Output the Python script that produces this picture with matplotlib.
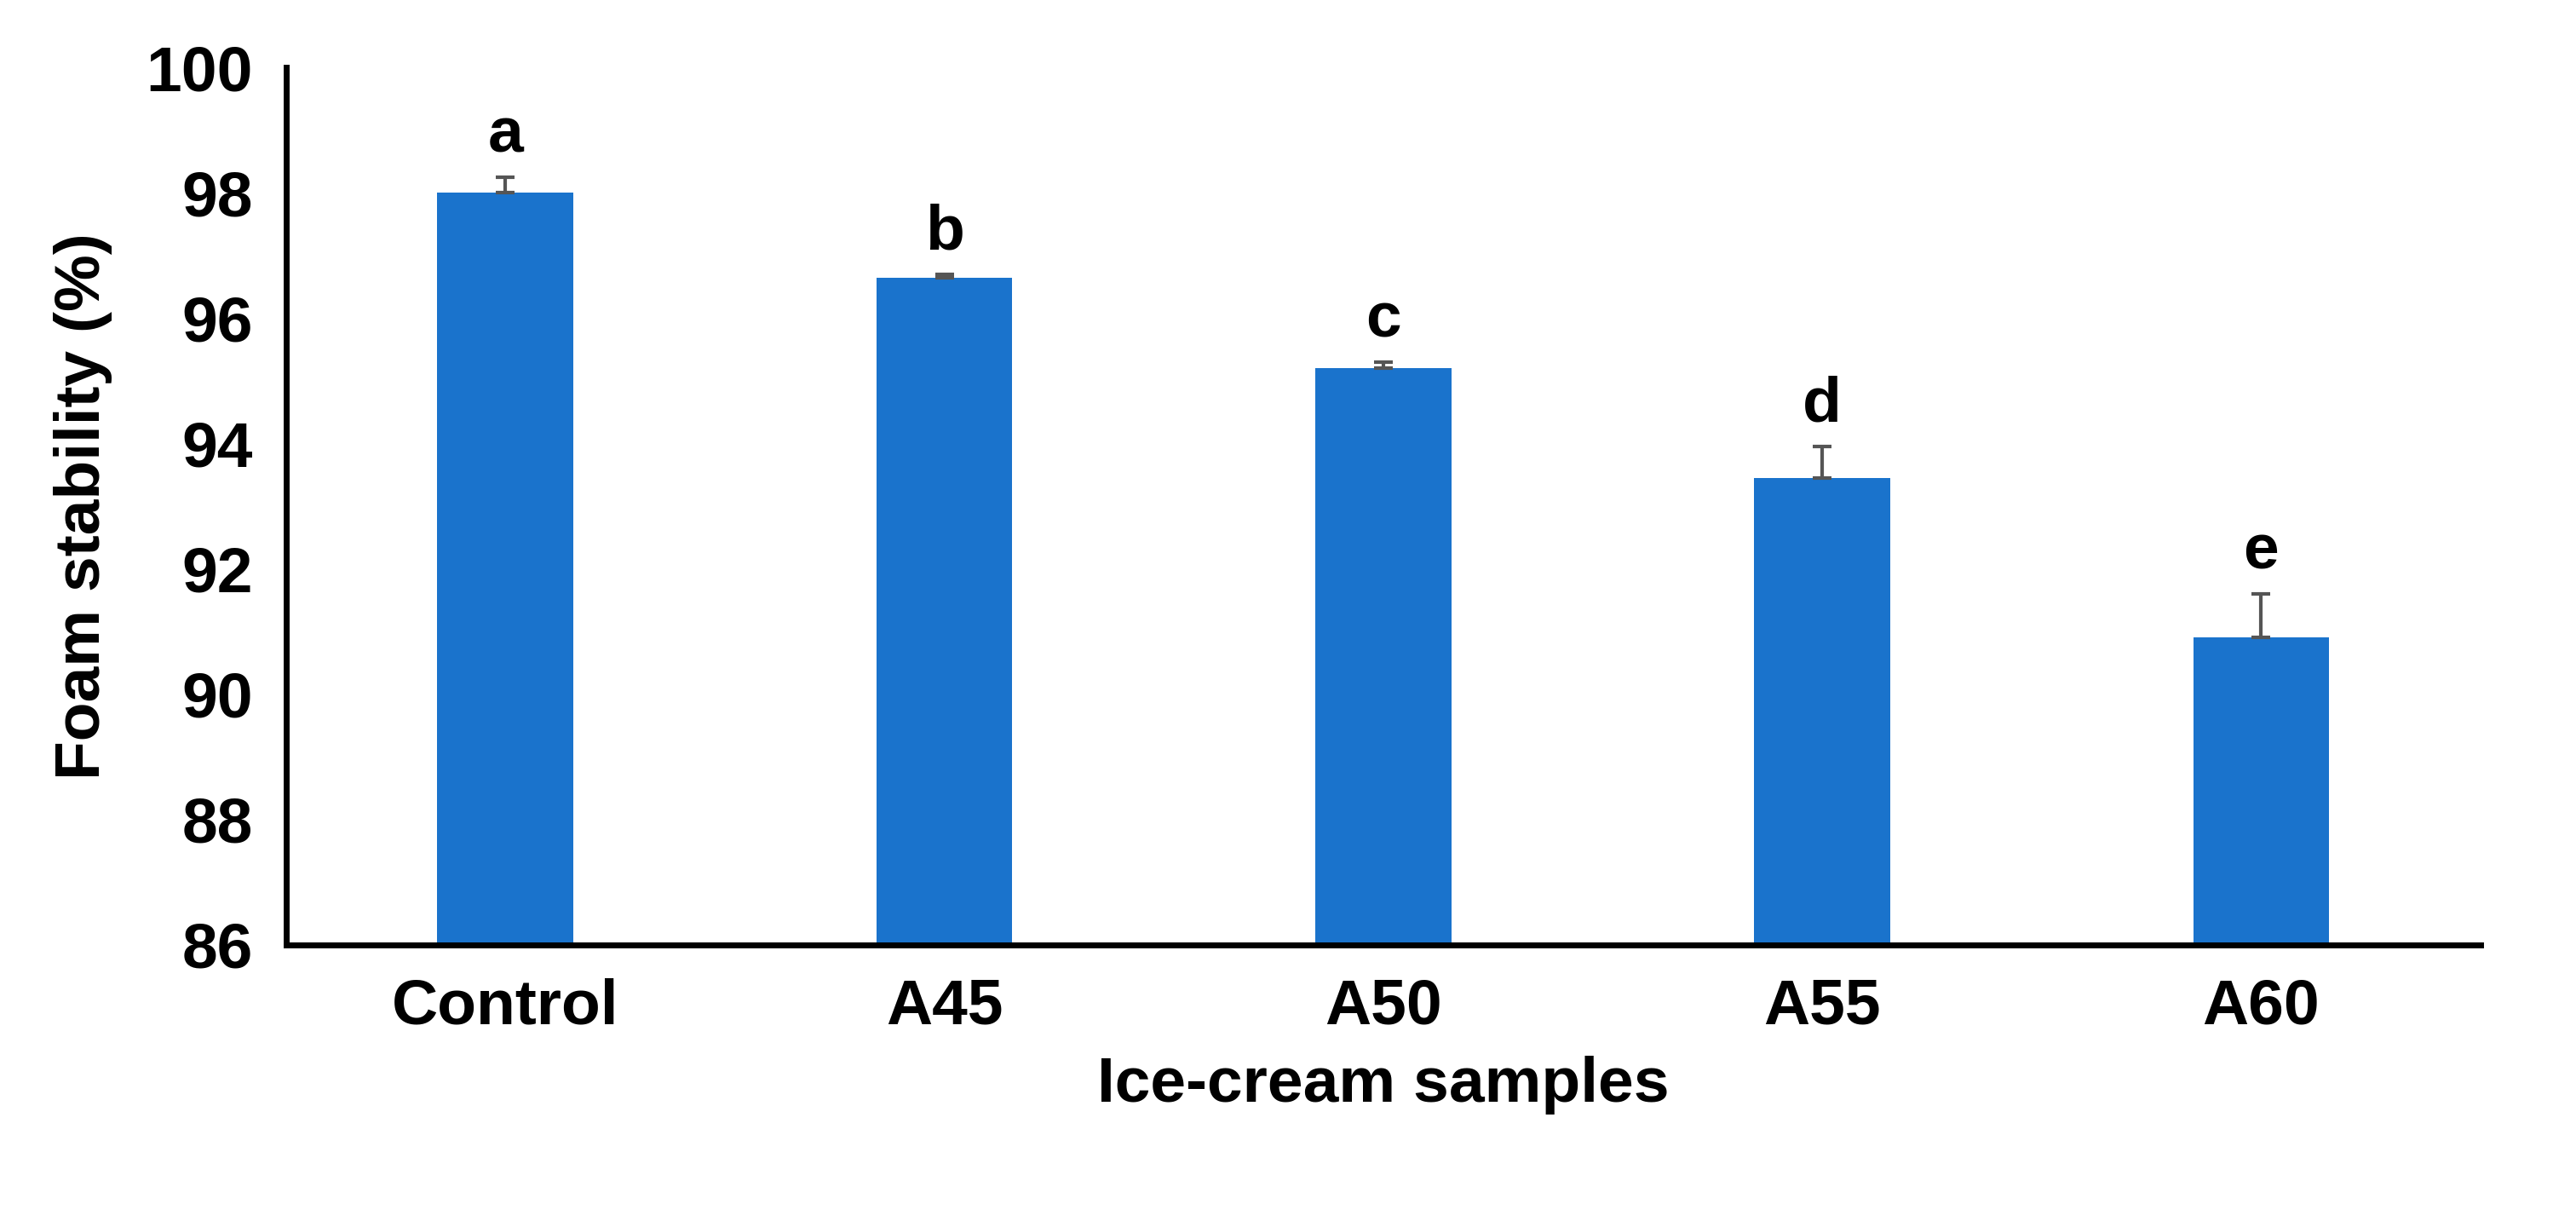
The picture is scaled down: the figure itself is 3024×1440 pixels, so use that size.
import matplotlib.pyplot as plt

samples = ["Control", "A45", "A50", "A55", "A60"]
stability = [98.0, 96.65, 95.2, 93.45, 90.9]
errors = [0.25, 0.05, 0.1, 0.5, 0.7]
letters = ["a", "b", "c", "d", "e"]

plt.rcParams["font.family"] = ["Liberation Sans", "DejaVu Sans"]
plt.rcParams["font.weight"] = "bold"

fig = plt.figure(figsize=(15.12, 7.2), dpi=200)
ax = fig.add_axes([0.111, 0.23, 0.852, 0.715])

x = range(len(samples))
ax.bar(x, stability, width=0.31, color="#1a73cc", zorder=2)
ax.errorbar(x, stability, yerr=[[0] * len(errors), errors], fmt="none",
            ecolor="#555555", elinewidth=1.5, capsize=4, capthick=1.5, zorder=3)
for i, (v, e, l) in enumerate(zip(stability, errors, letters)):
    ax.text(i, v + e + 0.2, l, ha="center", va="bottom", fontsize=27, fontweight="bold")

ax.set_ylim(86, 100)
ax.set_xlim(-0.5, 4.5)
ax.set_yticks(range(86, 101, 2))
ax.set_xticks(list(x))
ax.set_xticklabels(samples)
ax.tick_params(axis="both", labelsize=27, length=0, pad=14)
ax.set_ylabel("Foam stability (%)", fontsize=27, fontweight="bold", labelpad=14)
ax.set_xlabel("Ice-cream samples", fontsize=27, fontweight="bold", labelpad=8)
for s in ["top", "right"]:
    ax.spines[s].set_visible(False)
for s in ["left", "bottom"]:
    ax.spines[s].set_linewidth(2.5)

fig.savefig("out.png")
